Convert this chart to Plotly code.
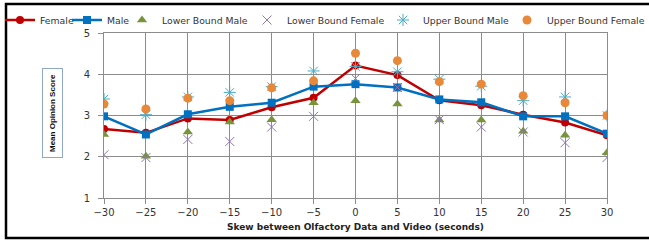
import plotly.graph_objects as go

skew = [-30, -25, -20, -15, -10, -5, 0, 5, 10, 15, 20, 25, 30]
female = [2.67, 2.58, 2.93, 2.89, 3.20, 3.43, 4.21, 3.98, 3.37, 3.25, 3.02, 2.83, 2.52]
male = [2.98, 2.54, 3.03, 3.21, 3.31, 3.70, 3.76, 3.68, 3.39, 3.32, 2.98, 2.98, 2.56]
lower_male = [2.54, 2.01, 2.60, 2.84, 2.90, 3.31, 3.36, 3.28, 2.89, 2.89, 2.62, 2.52, 2.10]
lower_female = [2.05, 1.98, 2.42, 2.37, 2.72, 2.98, 3.90, 3.68, 2.90, 2.72, 2.60, 2.34, 1.98]
upper_male = [3.40, 3.02, 3.45, 3.56, 3.70, 4.08, 4.19, 4.06, 3.88, 3.71, 3.36, 3.45, 3.00]
upper_female = [3.28, 3.16, 3.42, 3.36, 3.67, 3.84, 4.51, 4.33, 3.82, 3.76, 3.48, 3.31, 3.00]
x_ticks = [-30, -25, -20, -15, -10, -5, 0, 5, 10, 15, 20, 25, 30]
y_ticks = [1, 2, 3, 4, 5]

W, H = 649, 240
L, R, T, B = 104, 42, 33, 42

fig = go.Figure()
fig.add_trace(go.Scatter(x=skew, y=female, name="Female", mode="lines+markers",
                         line=dict(color="#C00000", width=2.5),
                         marker=dict(symbol="circle", size=8, color="#C00000"),
                         legend="legend"))
fig.add_trace(go.Scatter(x=skew, y=male, name="Male", mode="lines+markers",
                         line=dict(color="#0070C0", width=2.5),
                         marker=dict(symbol="square", size=8, color="#0070C0"),
                         legend="legend2"))
fig.add_trace(go.Scatter(x=skew, y=lower_male, name="Lower Bound Male", mode="markers",
                         marker=dict(symbol="triangle-up", size=9, color="#77933C"),
                         legend="legend3"))
fig.add_trace(go.Scatter(x=skew, y=lower_female, name="Lower Bound Female", mode="markers",
                         marker=dict(symbol="x-thin", size=9, color="#8C76AE",
                                     line=dict(color="#8C76AE", width=1)),
                         legend="legend4"))
fig.add_trace(go.Scatter(x=skew, y=upper_male, name="Upper Bound Male", mode="markers",
                         marker=dict(symbol="asterisk", size=10, color="#4BACC6",
                                     line=dict(color="#4BACC6", width=1)),
                         legend="legend5"))
fig.add_trace(go.Scatter(x=skew, y=upper_female, name="Upper Bound Female", mode="markers",
                         marker=dict(symbol="circle", size=9, color="#E8893A"),
                         legend="legend6"))

text_starts = [40, 107, 162, 287, 423, 547]
legend_font = dict(family="DejaVu Sans", size=9.3, color="#333333")
leg_keys = ["legend", "legend2", "legend3", "legend4", "legend5", "legend6"]
legends = {}
for key, ts in zip(leg_keys, text_starts):
    legends[key] = dict(x=(ts - 40) / W, y=1 - 20 / H, xref="container", yref="container",
                        xanchor="left", yanchor="middle", orientation="h",
                        font=legend_font, bgcolor="rgba(0,0,0,0)", itemwidth=30,
                        borderwidth=0)

grid = "#8C8C8C"
fig.update_layout(
    width=W, height=H,
    margin=dict(l=L, r=R, t=T, b=B, autoexpand=False),
    paper_bgcolor="white", plot_bgcolor="white",
    showlegend=True,
    **legends,
    xaxis=dict(range=[-30, 30], tickvals=x_ticks, ticks="outside", ticklen=5,
               tickcolor=grid, showgrid=True, gridcolor=grid, gridwidth=1,
               showline=True, linecolor=grid, linewidth=1, mirror=True, zeroline=False,
               tickfont=dict(family="DejaVu Sans", size=10, color="#333333"),
               title=dict(text="<b>Skew between Olfactory Data and Video (seconds)</b>",
                          font=dict(family="DejaVu Sans", size=9, color="#222222"),
                          standoff=6)),
    yaxis=dict(range=[1, 5], tickvals=y_ticks, ticks="outside", ticklen=5,
               tickcolor=grid, showgrid=True, gridcolor=grid, gridwidth=1,
               showline=True, linecolor=grid, linewidth=1, mirror=True, zeroline=False,
               ticklabelstandoff=6,
               tickfont=dict(family="DejaVu Sans", size=10, color="#333333")),
    annotations=[dict(text="<b>Mean Opinion Score</b>", textangle=-90,
                      xref="paper", yref="paper",
                      x=(52 - L) / (W - L - R), y=(198 - 113) / (H - T - B),
                      showarrow=False, font=dict(family="Liberation Sans", size=8, color="#111111"),
                      bordercolor="#8FA8C8", borderwidth=1, borderpad=5,
                      bgcolor="white", xanchor="center", yanchor="middle")],
    shapes=[dict(type="rect", xref="paper", yref="paper",
                 x0=(6 - L) / (W - L - R), x1=(680 - L) / (W - L - R),
                 y0=(198 - 238) / (H - T - B), y1=(198 - 4) / (H - T - B),
                 line=dict(color="black", width=2.5), fillcolor="rgba(0,0,0,0)")],
)

fig.write_html("out.html", config={"displayModeBar": False},
               post_script="document.body.style.margin='0px';")
